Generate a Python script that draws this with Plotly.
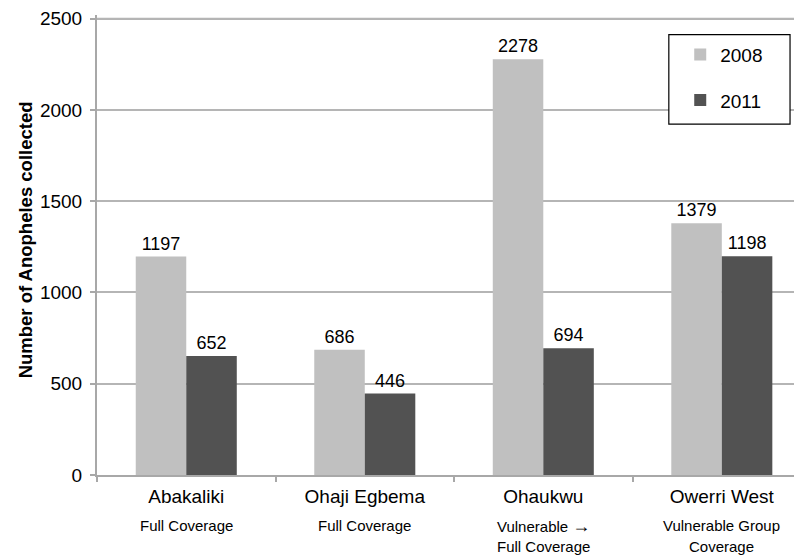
import plotly.graph_objects as go

districts = ["Abakaliki", "Ohaji Egbema", "Ohaukwu", "Owerri West"]
coverage_line1 = ["Full Coverage", "Full Coverage", "Vulnerable \u2192", "Vulnerable Group"]
coverage_line2 = ["", "", "Full Coverage", "Coverage"]
counts_2008 = [1197, 686, 2278, 1379]
counts_2011 = [652, 446, 694, 1198]
y_ticks = [0, 500, 1000, 1500, 2000, 2500]

FONT = "Liberation Sans, Arial, sans-serif"
GRID = "#b5b5b5"

fig = go.Figure()
fig.add_trace(go.Bar(
    x=districts, y=counts_2008, name="2008", marker=dict(color="#c0c0c0", line=dict(width=0)),
    texttemplate="%{y}", textposition="outside", textfont=dict(size=18, color="black", family=FONT),
    cliponaxis=False, legendgroup="a"))
fig.add_trace(go.Bar(
    x=districts, y=counts_2011, name="2011", marker=dict(color="#525252", line=dict(width=0)),
    texttemplate="%{y}", textposition="outside", textfont=dict(size=18, color="black", family=FONT),
    cliponaxis=False, legendgroup="b"))

def styled(t):
    return t.replace("\u2192", "<span style='font-size:18px'>\u2192</span>")

# plot area: y=0 at page px 475, y=2500 at page px 16 (459 px); range top 2520
PLOT_H = 459 * 2520 / 2500
def py(page_y):
    return (475 - page_y) / PLOT_H

for d, l1, l2 in zip(districts, coverage_line1, coverage_line2):
    fig.add_annotation(x=d, xref="x", y=py(526), yref="paper", text=styled(l1), showarrow=False,
                       yanchor="middle", font=dict(size=15, family=FONT, color="black"))
    if l2:
        fig.add_annotation(x=d, xref="x", y=py(547), yref="paper", text=styled(l2), showarrow=False,
                           yanchor="middle", font=dict(size=15, family=FONT, color="black"))

fig.add_annotation(x=-0.101, xref="paper", y=py(238), yref="paper", xanchor="center", yanchor="middle",
                   text="<b>Number of Anopheles collected</b>",
                   textangle=-90, showarrow=False, font=dict(size=18.5, family=FONT, color="black"))

# top gridline (at the last tick value)
fig.add_shape(type="line", xref="paper", yref="y", x0=0, x1=1, y0=y_ticks[-1], y1=y_ticks[-1],
              line=dict(color=GRID, width=2), layer="above")

# legend frame
fig.add_shape(type="rect", xref="paper", yref="paper", x0=0.802, x1=0.972, y0=py(122), y1=py(32),
              fillcolor="white", line=dict(color="black", width=1.2), layer="above")

fig.update_layout(
    width=802, height=557,
    margin=dict(l=89, r=0, t=4.3, b=90),
    paper_bgcolor="white", plot_bgcolor="white",
    barmode="group", bargap=0.434, bargroupgap=0,
    font=dict(family=FONT, size=19, color="black"),
    showlegend=True,
    legend=dict(x=0.818, y=py(33), xanchor="left", yanchor="top",
                borderwidth=0, bgcolor="rgba(0,0,0,0)",
                font=dict(size=19, family=FONT), tracegroupgap=18,
                traceorder="grouped"),
    xaxis=dict(type="category", range=[-0.5, 3.494], tickson="boundaries",
               ticks="outside", ticklen=5, tickcolor="#a8a8a8", tickwidth=1.5,
               showline=True, linecolor="#a8a8a8", linewidth=2, ticklabelstandoff=3,
               showgrid=False, tickfont=dict(size=19, family=FONT)),
    yaxis=dict(range=[0, 2520], tickvals=y_ticks,
               ticks="outside", ticklen=5, tickcolor="#a8a8a8",
               tickwidth=1.5, showline=True, linecolor="#a8a8a8", linewidth=2,
               showgrid=True, gridcolor=GRID, gridwidth=1.5, zeroline=False,
               ticklabeloverflow="allow",
               ticklabelstandoff=4, tickfont=dict(size=19, family=FONT)),
)

fig.write_html("out.html")
